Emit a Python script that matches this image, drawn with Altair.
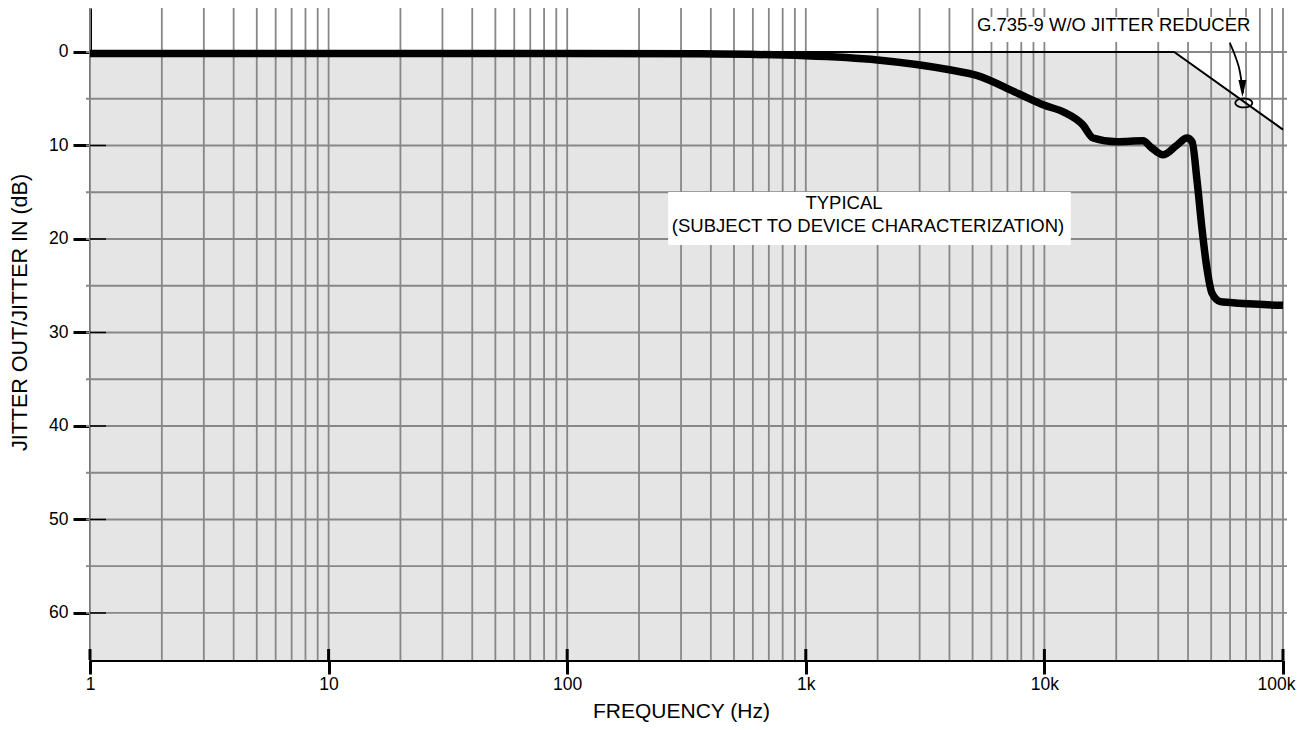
import math
import altair as alt
import pandas as pd

# ---------------- data ----------------
curve_freq = [1, 10, 100, 363, 1000, 2000, 4000, 5200, 7700, 10000, 12000, 14500,
              16000, 20100, 25900, 28000, 31400, 35800, 39600, 41600, 43600, 45800,
              47900, 50400, 54600, 60000, 100000]
curve_db = [0.15, 0.15, 0.15, 0.2, 0.4, 0.85, 1.9, 2.5, 4.4, 5.7, 6.4, 7.8,
            9.2, 9.6, 9.5, 10.2, 11.0, 10.0, 9.2, 9.6, 13.7, 19.0,
            23.0, 25.8, 26.7, 26.8, 27.1]

mask_freq = [1, 35000, 100000]
mask_db = [0, 0, 8.3]

mantissas = [1, 2, 3, 4, 5, 6, 7, 8, 9]
decades = [1, 10, 100, 1000, 10000]
grid_freq = [m * d for d in decades for m in mantissas] + [100000]
grid_db = [0, 5, 10, 15, 20, 25, 30, 35, 40, 45, 50, 55, 60]

x_ticks = [1, 10, 100, 1000, 10000, 100000]
x_tick_labels = ["1", "10", "100", "1k", "10k", "100k"]
y_ticks = [0, 10, 20, 30, 40, 50, 60]
y_range = [-4.706, 65.03]

# annotations
typ_lines = ["TYPICAL", "(SUBJECT TO DEVICE CHARACTERIZATION)"]
typ_freq = [1445, 1823]
typ_db = [16.2, 18.6]
typ_box_freq = [265, 12900]
typ_box_db = [14.97, 20.64]

mask_label = ["G.735-9 W/O JITTER REDUCER"]
mask_label_freq = [5218]
mask_label_db = [-2.89]
mask_box_freq = [5117, 76300]
mask_box_db = [-3.74, -1.07]

arrow_freq = [59900, 63500, 66000, 67300, 68000]
arrow_db = [-0.96, 0.64, 2.14, 3.53, 4.4]
arrowhead_freq = [67600]
arrowhead_db = [3.9]
ellipse_freq = [68500]
ellipse_db = [5.45]

# ---------------- layout ----------------
PLOT_W = 1193
PLOT_H = 652
FONT = "Liberation Sans"

xs = alt.Scale(type="log", domain=[1, 100000], nice=False)
ys = alt.Scale(domain=y_range, reverse=True, nice=False, zero=False)

curve_df = pd.DataFrame({"f": curve_freq, "db": curve_db})
mask_df = pd.DataFrame({"f": mask_freq, "db": mask_db, "bottom": [y_range[1]] * len(mask_freq)})
vgrid_df = pd.DataFrame({"f": grid_freq})
hgrid_df = pd.DataFrame({"db": grid_db})
xtick_df = pd.DataFrame({"f": x_ticks})
ytick_df = pd.DataFrame({"db": y_ticks})
typ_df = pd.DataFrame({"t": typ_lines, "f": typ_freq, "db": typ_db})
typ_box_df = pd.DataFrame({"f": [typ_box_freq[0]], "f2": [typ_box_freq[1]],
                           "db": [typ_box_db[0]], "d2": [typ_box_db[1]]})
ml_df = pd.DataFrame({"t": mask_label, "f": mask_label_freq, "db": mask_label_db})
ml_box_df = pd.DataFrame({"f": [mask_box_freq[0]], "f2": [mask_box_freq[1]],
                          "db": [mask_box_db[0]], "d2": [mask_box_db[1]]})
arrow_df = pd.DataFrame({"f": arrow_freq, "db": arrow_db})
ah_df = pd.DataFrame({"f": arrowhead_freq, "db": arrowhead_db})
el_df = pd.DataFrame({"f": ellipse_freq, "db": ellipse_db})

label_expr = "''"
for v, l in reversed(list(zip(x_ticks, x_tick_labels))):
    label_expr = f"datum.value == {v} ? '{l}' : ({label_expr})"

x_axis = alt.Axis(
    values=x_ticks, labelExpr=label_expr, title="FREQUENCY (Hz)", grid=False,
    domainColor="black", domainWidth=3, tickColor="black", tickWidth=3, tickSize=14,
    labelPadding=1, labelFontSize=17.5, labelFont=FONT, labelColor="black",
    labelFlush=False, labelOverlap=False,
    labelOffset={"condition": {"test": "datum.value == 100000", "value": -7}, "value": 0},
    titleFont=FONT, titleFontSize=21, titleFontWeight="normal", titleColor="black",
    titleX=591, titleY=51, titleBaseline="middle", titleAlign="center",
)
y_axis = alt.Axis(
    values=y_ticks, title="JITTER OUT/JITTER IN (dB)", grid=False,
    domainColor="black", domainWidth=3, tickColor="black", tickWidth=3, tickSize=17,
    labelPadding=5, labelFontSize=17.5, labelFont=FONT, labelColor="black",
    labelFlush=False, labelOverlap=False,
    titleFont=FONT, titleFontSize=21.5, titleFontWeight="normal", titleColor="black",
    titleX=-70, titleY=304, titleBaseline="middle", titleAlign="center", titleAngle=-90,
)


def X(fld="f"):
    return alt.X(f"{fld}:Q", scale=xs, axis=x_axis, title="FREQUENCY (Hz)")


def Y(fld="db"):
    return alt.Y(f"{fld}:Q", scale=ys, axis=y_axis, title="JITTER OUT/JITTER IN (dB)")


area = alt.Chart(mask_df).mark_area(color="#e5e5e5").encode(
    x=X(), y=Y(), y2="bottom:Q"
)
vgrid = alt.Chart(vgrid_df).mark_rule(color="#878787", strokeWidth=1.8).encode(
    x=X(), y=alt.value(0), y2=alt.value(PLOT_H)
)
hgrid = alt.Chart(hgrid_df).mark_rule(color="#878787", strokeWidth=1.8).encode(
    y=Y(), x=alt.value(-4), x2=alt.value(PLOT_W + 4)
)
mask_line = alt.Chart(mask_df).mark_line(color="black", strokeWidth=2).encode(
    x=X(), y=Y()
)
typ_box = alt.Chart(typ_box_df).mark_rect(color="white").encode(
    x=X(), x2="f2:Q", y=Y(), y2="d2:Q"
)
ml_box = alt.Chart(ml_box_df).mark_rect(color="white").encode(
    x=X(), x2="f2:Q", y=Y(), y2="d2:Q"
)
typ_text = alt.Chart(typ_df).mark_text(
    font=FONT, fontSize=18.5, color="black", align="center", baseline="middle"
).encode(x=X(), y=Y(), text="t:N")
ml_text = alt.Chart(ml_df).mark_text(
    font=FONT, fontSize=18.5, color="black", align="left", baseline="middle"
).encode(x=X(), y=Y(), text="t:N")
curve = alt.Chart(curve_df).mark_line(
    color="black", strokeWidth=7.5, interpolate="monotone", strokeCap="butt"
).encode(x=X(), y=Y())
arrow = alt.Chart(arrow_df).mark_line(
    color="black", strokeWidth=1.8, interpolate="monotone"
).encode(x=X(), y=Y())
ah = alt.Chart(ah_df).mark_point(
    shape="M -0.47 -1 L 0.47 -1 L 0 1 Z", size=289, filled=True,
    color="black", opacity=1, strokeWidth=0
).encode(x=X(), y=Y())
n = 24
ell_path = "M " + " L ".join(
    f"{math.cos(2 * math.pi * i / n):.3f} {0.53 * math.sin(2 * math.pi * i / n):.3f}"
    for i in range(n)
) + " Z"
ell = alt.Chart(el_df).mark_point(
    shape=ell_path, size=289, filled=False, stroke="black", strokeWidth=1.8, opacity=1
).encode(x=X(), y=Y())
ystub = alt.Chart(ytick_df).mark_rule(color="black", strokeWidth=1.5).encode(
    y=Y(), x=alt.value(0), x2=alt.value(16)
)
xstub = alt.Chart(xtick_df).mark_rule(color="black", strokeWidth=3).encode(
    x=X(), y=alt.value(PLOT_H - 11), y2=alt.value(PLOT_H)
)

chart = alt.layer(
    area, vgrid, hgrid, mask_line, typ_box, ml_box, typ_text, ml_text,
    curve, arrow, ah, ell, ystub, xstub
).properties(
    width=PLOT_W, height=PLOT_H,
    autosize=alt.AutoSizeParams(type="none"),
    padding={"left": 82, "top": 0, "right": 14, "bottom": 62},
    background="white",
).configure_view(stroke=None)

chart.save("out.html", embed_options={"renderer": "svg", "actions": False})
